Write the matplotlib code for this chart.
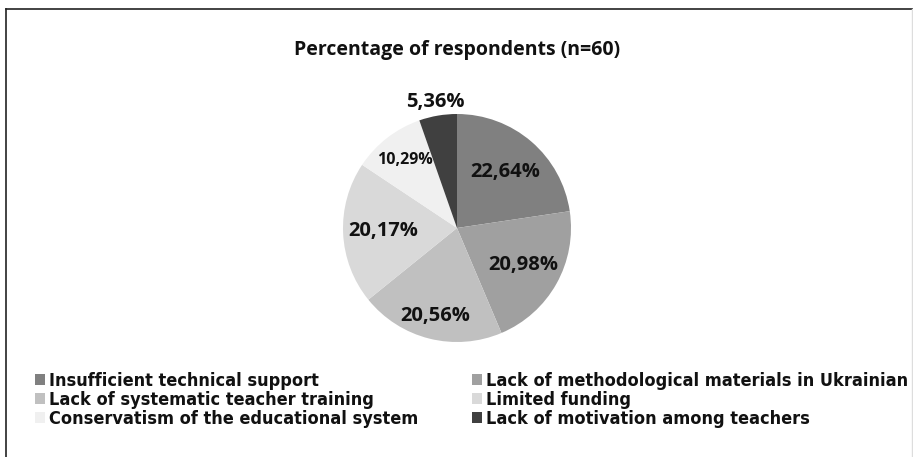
import matplotlib.pyplot as plt
from matplotlib.lines import Line2D
from matplotlib.patches import Patch
import numpy as np

labels = ['Insufficient technical support',
          'Lack of methodological materials in Ukrainian',
          'Lack of systematic teacher training',
          'Limited funding',
          'Conservatism of the educational system',
          'Lack of motivation among teachers']
values = [22.64, 20.98, 20.56, 20.17, 10.29, 5.36]
value_text = ['22,64%', '20,98%', '20,56%', '20,17%', '10,29%', '5,36%']
colors = ['#808080', '#a0a0a0', '#c0c0c0', '#d9d9d9', '#f0f0f0', '#404040']
title = 'Percentage of respondents (n=60)'

plt.rcParams['font.family'] = ['Open Sans', 'DejaVu Sans']

fig = plt.figure(figsize=(9.13, 4.57), dpi=100)

# pie axes placed so the pie sits at about (457, 228) px with radius ~114 px
ax = fig.add_axes([(457 - 114) / 913, 1 - (228 + 114) / 457, 228 / 913, 228 / 457])
wedges, _ = ax.pie(values, colors=colors, startangle=90, counterclock=False,
                   radius=1.0)
ax.set_xlim(-1, 1)
ax.set_ylim(-1, 1)
ax.set_aspect('equal')

# label distances and sizes per slice
dist = [0.65, 0.67, 0.80, 0.65, 0.75, 1.12]
sizes = [14.5, 14.5, 14.5, 14.5, 11.5, 14.5]
for w, t, d, s in zip(wedges, value_text, dist, sizes):
    ang = np.deg2rad((w.theta1 + w.theta2) / 2)
    ax.text(d * np.cos(ang), d * np.sin(ang), t, ha='center', va='center',
            fontsize=s, fontweight='bold', color='#111111')

fig.text(457 / 913, 1 - 50 / 457, title, ha='center', va='center',
         fontsize=14, fontweight='bold', color='#111111')

# legend: two columns, drawn as two legends so each column starts where it should
handles = [Patch(facecolor=c, edgecolor='none') for c in colors]
legend_kw = dict(loc='upper left', frameon=False, handlelength=0.55, handleheight=0.55,
                 handletextpad=0.25, labelspacing=0.05, borderaxespad=0, borderpad=0,
                 prop=dict(family='DejaVu Sans', stretch='condensed', weight='bold', size=13))
for col, x0 in enumerate([35, 472]):
    leg = fig.legend(handles[col::2], labels[col::2],
                     bbox_to_anchor=(x0 / 913, 1 - 372 / 457), **legend_kw)
    for txt in leg.get_texts():
        txt.set_color('#111111')

# frame around the figure
fig.add_artist(Line2D([6 / 913, 1], [1 - 9 / 457, 1 - 9 / 457], color='#222222', lw=1.2))
fig.add_artist(Line2D([6 / 913, 6 / 913], [0, 1 - 9 / 457], color='#222222', lw=1.2))
fig.add_artist(Line2D([911.5 / 913, 911.5 / 913], [0, 1 - 9 / 457], color='#dddddd', lw=1))

fig.savefig('out.png', dpi=100)
